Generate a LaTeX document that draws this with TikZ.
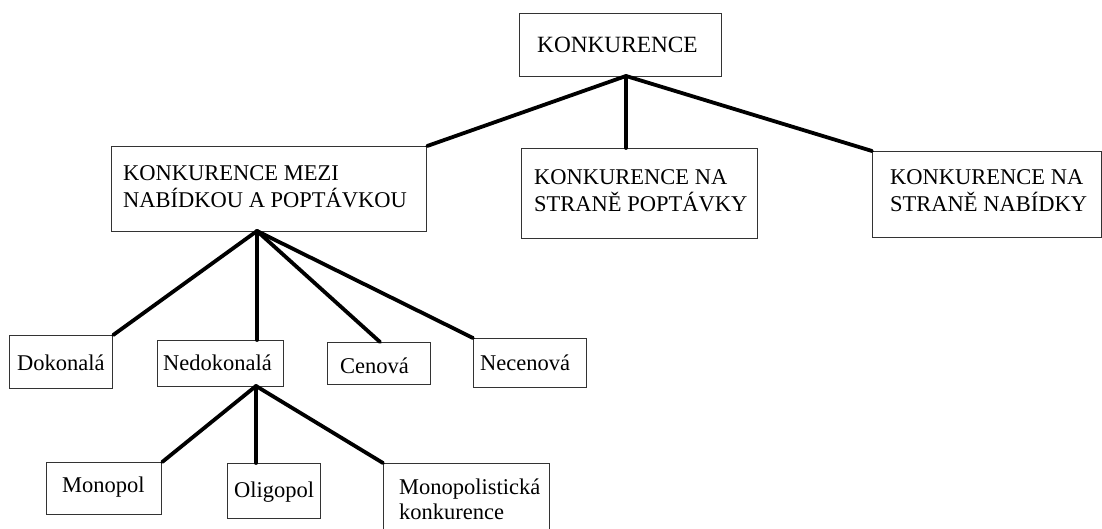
\documentclass[tikz,border=0pt]{standalone}
\usepackage{fontspec}
\setmainfont{Liberation Serif}
\begin{document}
\begin{tikzpicture}[x=1pt, y=-1pt,
  box/.style={draw=black!80, line width=1.2pt, inner sep=0pt, anchor=north west},
  lbl/.style={anchor=base west, inner sep=0pt, align=left,
    font=\fontsize{22.5}{27}\selectfont},
  link/.style={line width=3.8pt, line cap=round, line join=round}]
\useasboundingbox (0,0) rectangle (1102,529);
\clip (0,0) rectangle (1102,529);

% boxes: top-left corner, width and height in px
\newcommand{\bx}[5]{\node[box, minimum width=#4, minimum height=#5] (#1) at (#2,#3) {};}
\bx{top}{519}{13}{202}{63}
\bx{mezi}{111}{146}{315}{85}
\bx{popt}{521}{148}{236}{90}
\bx{nab}{872}{151}{229}{86}
\bx{dok}{9}{335}{103}{53}
\bx{ned}{157}{340}{126}{46}
\bx{cen}{327}{342}{103}{42}
\bx{nec}{473}{338}{113}{49}
\bx{mon}{46}{462}{115}{52}
\bx{oli}{227}{463}{93}{55}
\bx{mpk}{383}{463}{166}{90}

% texts (multi-line labels are placed by the baseline of their last line)
\node[lbl, font=\fontsize{23.3}{27}\selectfont] (top-t) at (537,53) {KONKURENCE};
\node[lbl] (mezi-t) at (123,208) {KONKURENCE MEZI\\NABÍDKOU A POPTÁVKOU};
\node[lbl] (popt-t) at (534,212) {KONKURENCE NA\\STRANĚ POPTÁVKY};
\node[lbl] (nab-t)  at (890,212) {KONKURENCE NA\\STRANĚ NABÍDKY};
\node[lbl] (dok-t)  at (17,370)  {Dokonalá};
\node[lbl] (ned-t)  at (163,370) {Nedokonalá};
\node[lbl] (cen-t)  at (340,373) {Cenová};
\node[lbl] (nec-t)  at (480,370) {Necenová};
\node[lbl] (mon-t)  at (62,492)  {Monopol};
\node[lbl] (oli-t)  at (234,497) {Oligopol};
\node[lbl, font=\fontsize{22.5}{25}\selectfont] (mpk-t) at (399,519) {Monopolistická\\konkurence};

% branching points
\coordinate (j1) at (626,76);
\coordinate (j2) at (257,231);
\coordinate (j3) at (256,386);

% connectors
\draw[link] (j1) -- (mezi.north east);
\draw[link] (j1) -- (j1 |- popt.north);
\draw[link] (j1) -- (nab.north west);

\draw[link] (j2) -- (dok.north east);
\draw[link] (j2) -- (j2 |- ned.north);
\draw[link] (j2) -- (380,342);
\draw[link] (j2) -- (nec.north west);

\draw[link] (j3) -- (mon.north east);
\draw[link] (j3) -- (j3 |- oli.north);
\draw[link] (j3) -- (mpk.north west);
\end{tikzpicture}
\end{document}
